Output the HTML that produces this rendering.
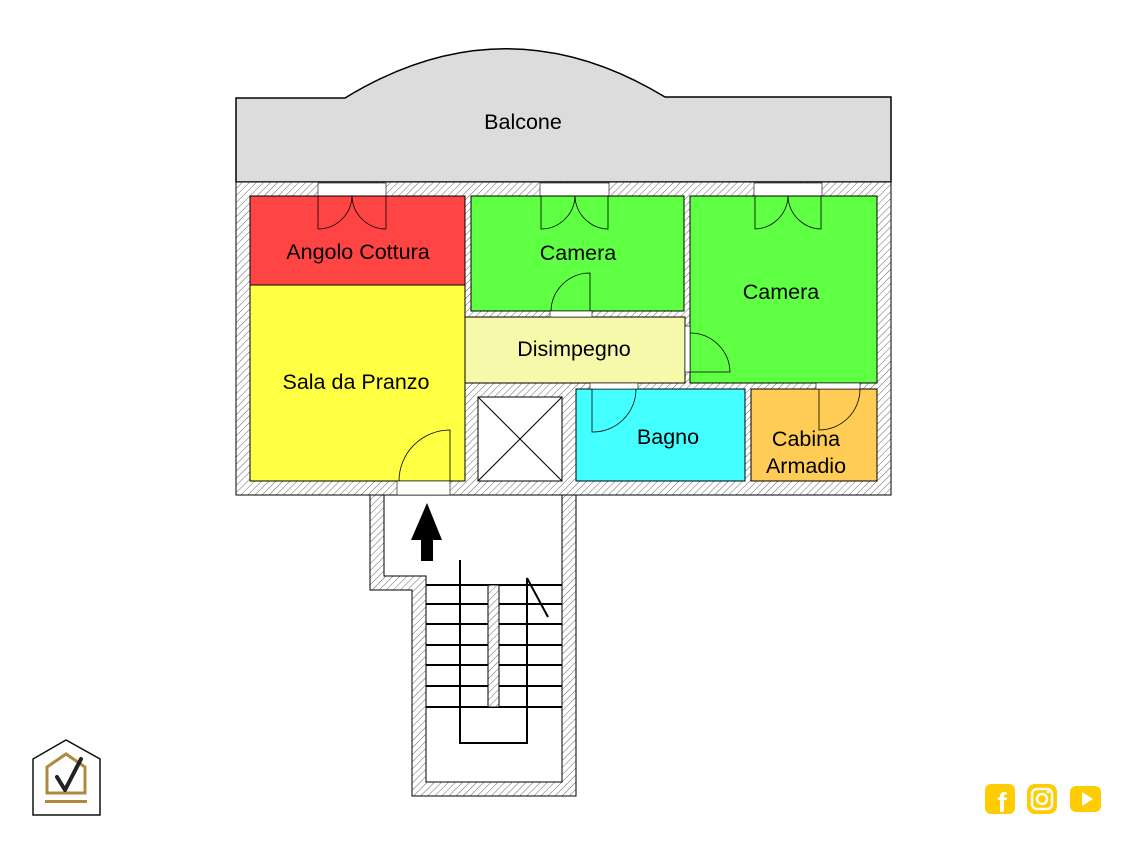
<!DOCTYPE html>
<html><head><meta charset="utf-8"><style>
html,body{margin:0;padding:0;background:#fff;}
svg{display:block;}
text{font-family:"Liberation Sans",sans-serif;fill:#000;}
</style></head><body>
<svg width="1133" height="850" viewBox="0 0 1133 850" xmlns="http://www.w3.org/2000/svg">
<defs>
<pattern id="h" width="5" height="5" patternUnits="userSpaceOnUse" patternTransform="rotate(45)">
<rect width="5" height="5" fill="#fff"/><line x1="0" y1="0" x2="0" y2="5" stroke="#666" stroke-width="1"/>
</pattern>
</defs>
<path d="M236 98 L345 98 Q505 0 665 97 L891 97 L891 182 L236 182 Z" fill="#dcdcdc" stroke="#000" stroke-width="1.5"/>
<text x="523" y="129" font-size="21.5" text-anchor="middle">Balcone</text>
<rect x="236" y="182" width="655" height="313" fill="url(#h)" stroke="#000" stroke-width="1"/>
<path d="M370 495 L370 590 L412 590 L412 796 L576 796 L576 495 Z" fill="url(#h)" stroke="#000" stroke-width="1"/>
<path d="M384 495 L384 576 L426 576 L426 782 L562 782 L562 495 Z" fill="#fff" stroke="#000" stroke-width="1"/>
<rect x="318" y="183" width="68" height="13" fill="#fff" stroke="#000" stroke-width="0.6"/>
<rect x="540" y="183" width="69" height="13" fill="#fff" stroke="#000" stroke-width="0.6"/>
<rect x="754" y="183" width="68" height="13" fill="#fff" stroke="#000" stroke-width="0.6"/>
<rect x="250" y="196" width="215" height="89" fill="#ff4444" stroke="#000" stroke-width="1"/>
<rect x="250" y="285" width="215" height="196" fill="#ffff44" stroke="#000" stroke-width="1"/>
<rect x="471" y="196" width="213" height="115" fill="#5fff44" stroke="#000" stroke-width="1"/>
<rect x="465" y="317" width="220" height="66" fill="#f6f8aa" stroke="#000" stroke-width="1"/>
<rect x="690" y="196" width="187" height="187" fill="#5fff44" stroke="#000" stroke-width="1"/>
<rect x="478" y="397" width="84" height="84" fill="#fff" stroke="#000" stroke-width="1"/>
<line x1="478" y1="397" x2="562" y2="481" stroke="#000"/><line x1="562" y1="397" x2="478" y2="481" stroke="#000"/>
<rect x="576" y="389" width="169" height="92" fill="#44ffff" stroke="#000" stroke-width="1"/>
<rect x="751" y="389" width="126" height="92" fill="#ffcc55" stroke="#000" stroke-width="1"/>
<rect x="397" y="481" width="53" height="14" fill="#fff" stroke="#000" stroke-width="0.6"/>
<rect x="550" y="311" width="42" height="6" fill="#fff" stroke="#000" stroke-width="0.6"/>
<rect x="685" y="326" width="5" height="46" fill="#fff" stroke="#000" stroke-width="0.6"/>
<rect x="590" y="383" width="48" height="6" fill="#fff" stroke="#000" stroke-width="0.6"/>
<rect x="816" y="383" width="44" height="6" fill="#fff" stroke="#000" stroke-width="0.6"/>
<g fill="none" stroke="#000" stroke-width="0.8">
<path d="M318 196 L318 229 A34 34 0 0 0 352 196 M386 196 L386 229 A34 34 0 0 1 352 196"/>
<path d="M541 196 L541 229 A34 34 0 0 0 575 196 M608 196 L608 229 A34 34 0 0 1 575 196"/>
<path d="M755 196 L755 229 A34 34 0 0 0 788 196 M821 196 L821 229 A34 34 0 0 1 788 196"/>
<path d="M590 311 L590 273 A39 39 0 0 0 551 311"/>
<path d="M450 481 L450 430 A51 51 0 0 0 399 481"/>
<path d="M690 372 L730 372 A40 40 0 0 0 690 333"/>
<path d="M592 389 L592 432 A43 43 0 0 0 636 389"/>
<path d="M819 389 L819 430 A41 41 0 0 0 860 389"/>
</g>
<g font-size="21.5" text-anchor="middle">
<text x="358" y="259">Angolo Cottura</text>
<text x="578" y="260">Camera</text>
<text x="781" y="299">Camera</text>
<text x="574" y="356">Disimpegno</text>
<text x="356" y="389">Sala da Pranzo</text>
<text x="668" y="444">Bagno</text>
<text x="806" y="446">Cabina</text>
<text x="806" y="473">Armadio</text>
</g>
<g stroke="#000" stroke-width="2" fill="none">
<line x1="426" y1="585" x2="562" y2="585"/>
<line x1="426" y1="604" x2="562" y2="604"/>
<line x1="426" y1="624" x2="562" y2="624"/>
<line x1="426" y1="645" x2="562" y2="645"/>
<line x1="426" y1="665" x2="562" y2="665"/>
<line x1="426" y1="686" x2="562" y2="686"/>
<line x1="426" y1="707" x2="562" y2="707"/>
</g>
<rect x="488" y="585" width="11" height="122" fill="url(#h)" stroke="#000" stroke-width="1"/>
<path d="M460 560 L460 743 L527 743 L527 578" fill="none" stroke="#000" stroke-width="2"/>
<line x1="527" y1="578" x2="548" y2="617" stroke="#000" stroke-width="2"/>
<path d="M427 503 L442 540 L433 540 L433 561 L421 561 L421 540 L411 540 Z" fill="#000"/>
<path d="M33 759 L66 740 L100 759 L100 815 L33 815 Z" fill="#fff" stroke="#111" stroke-width="1.5"/>
<path d="M47 793 L47 767 L66 754 L85 767 L85 793 Z" fill="none" stroke="#b08840" stroke-width="3"/>
<rect x="45" y="800" width="42" height="3" fill="#b08840"/>
<path d="M57 777 L65 790 L81 759" fill="none" stroke="#222" stroke-width="4" stroke-linecap="round" stroke-linejoin="round"/>
<rect x="985" y="784" width="30" height="30" rx="6" fill="#ffcc00"/>
<text x="1002" y="812" font-size="28" font-weight="bold" text-anchor="middle" style="fill:#fff">f</text>
<rect x="1027" y="784" width="30" height="30" rx="8" fill="#ffcc00"/>
<rect x="1032" y="789" width="20" height="20" rx="5" fill="none" stroke="#fff" stroke-width="2.5"/>
<circle cx="1042" cy="799" r="5" fill="none" stroke="#fff" stroke-width="2.5"/>
<circle cx="1048" cy="792" r="1.3" fill="#fff"/>
<rect x="1070" y="786" width="31" height="26" rx="6" fill="#ffcc00"/>
<path d="M1082 792 L1093 799 L1082 806 Z" fill="#fff"/>
</svg>
</body></html>
